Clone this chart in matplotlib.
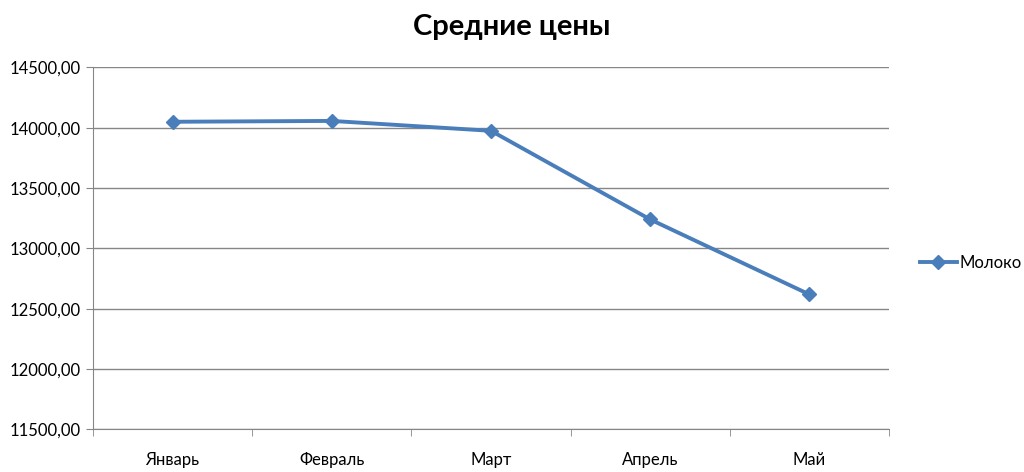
import matplotlib
matplotlib.use("Agg")
import matplotlib.pyplot as plt
from matplotlib.ticker import FuncFormatter, MultipleLocator

months = ["Январь", "Февраль", "Март", "Апрель", "Май"]
milk = [14050, 14057, 13975, 13240, 12618]
series_name = "Молоко"
title = "Средние цены"

plt.rcParams["font.family"] = ["Lato", "DejaVu Sans"]
BLUE = "#4a7ebb"
GRID = "#868686"

fig = plt.figure(figsize=(10.24, 4.72), dpi=100)
ax = fig.add_axes([0.0908, 0.0905, 0.7774, 0.7665])

x = list(range(len(months)))
ax.plot(x, milk, color=BLUE, lw=2.8, marker="D", ms=7.5, label=series_name)

ax.set_xlim(-0.5, len(months) - 0.5)
ax.set_ylim(11500, 14500)
ax.yaxis.set_major_locator(MultipleLocator(500))
ax.yaxis.set_major_formatter(FuncFormatter(lambda v, p: f"{v:.2f}".replace(".", ",")))
ax.grid(axis="y", color=GRID, lw=1)
ax.set_axisbelow(True)

ax.set_xticks(x)
ax.set_xticklabels(months, fontsize=12)
ax.set_xticks([i + 0.5 for i in range(-1, len(months))], minor=True)
ax.tick_params(axis="x", which="major", length=0, pad=16)
ax.tick_params(axis="x", which="minor", length=5, color=GRID, direction="out")
ax.tick_params(axis="y", length=5, color=GRID, labelsize=12, pad=4)

for s in ["top", "right"]:
    ax.spines[s].set_visible(False)
for s in ["left", "bottom"]:
    ax.spines[s].set_color(GRID)

fig.text(0.5, 0.942, title, ha="center", va="center", fontsize=21, fontweight="bold")

ax.legend(loc="center left", bbox_to_anchor=(1.02, 0.46), frameon=False,
          fontsize=12, handlelength=2.2, handletextpad=0.15)

fig.savefig("out.png", dpi=100)
